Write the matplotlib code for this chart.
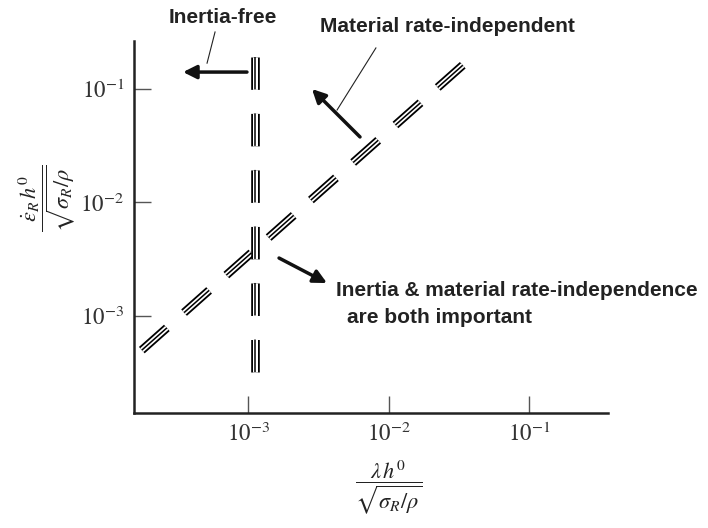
import matplotlib
matplotlib.use('Agg')
import matplotlib.pyplot as plt

plt.rcParams['mathtext.fontset'] = 'stix'
plt.rcParams['lines.scale_dashes'] = False

# ---- data ----
x_ticks = [1e-3, 1e-2, 1e-1]
x_tick_labels = [r'$10^{-3}$', r'$10^{-2}$', r'$10^{-1}$']
y_ticks = [1e-3, 1e-2, 1e-1]
y_tick_labels = [r'$10^{-3}$', r'$10^{-2}$', r'$10^{-1}$']

# inertia-free boundary (vertical)
inertia_x = [1.11e-3, 1.11e-3]
inertia_y = [3.21e-4, 0.191]
# material rate-independent boundary (diagonal)
rate_x = [1.74e-4, 0.0337]
rate_y = [5.0e-4, 0.163]

xlim = (10**-3.815, 10**-0.441)
ylim = (10**-3.855, 10**-0.577)

fig = plt.figure(figsize=(7.08, 5.28), dpi=100)
ax = fig.add_axes([134/708, 1-413/528, 474/708, 372/528])
ax.set_xscale('log')
ax.set_yscale('log')
ax.set_xlim(*xlim)
ax.set_ylim(*ylim)

def triple(x, y, dashes):
    for lw, c in [(6.2, 'black'), (3.6, 'white'), (1.1, 'black')]:
        ax.plot(x, y, color=c, lw=lw, dashes=dashes, dash_capstyle='butt',
                solid_capstyle='butt', zorder=3)

triple(rate_x, rate_y, (24.1, 16.6))
triple(inertia_x, inertia_y, (23.4, 17.3))

for s in ['top', 'right']:
    ax.spines[s].set_visible(False)
for s in ['left', 'bottom']:
    ax.spines[s].set_linewidth(1.8)
    ax.spines[s].set_color('#222222')

ax.set_xticks(x_ticks)
ax.set_xticklabels(x_tick_labels)
ax.set_yticks(y_ticks)
ax.set_yticklabels(y_tick_labels)
ax.minorticks_off()
ax.tick_params(direction='in', length=12, width=1, color='#555555',
               labelsize=16.5, labelcolor='#333333', pad=7)

ax.set_ylabel(r'$\dfrac{\dot{\varepsilon}_R\, h^0}{\sqrt{\sigma_R/\rho}}$',
              fontsize=16, va='center', color='#222222')
ax.yaxis.set_label_coords((47-134)/474, (413-198)/372)
ax.set_xlabel(r'$\dfrac{\lambda\, h^0}{\sqrt{\sigma_R/\rho}}$',
              fontsize=16, va='center', color='#222222')
ax.xaxis.set_label_coords((389-134)/474, (413-487)/372)

tfont = dict(family='Liberation Sans', weight='bold', size=15, color='#222222')
aprops = dict(arrowstyle='-|>', lw=2.5, color='#111111', mutation_scale=20,
              shrinkA=0, shrinkB=0)

# Inertia-free
ax.text(6.6e-4, 0.43, 'Inertia-free', ha='center', va='center',
        clip_on=False, **tfont)
ax.annotate('', xy=(3.42e-4, 0.141), xytext=(9.75e-4, 0.141),
            arrowprops=aprops, annotation_clip=False)
ax.plot([5.78e-4, 5.07e-4], [0.318, 0.169], color='#222222', lw=0.8,
        clip_on=False)

# Material rate-independent
ax.text(3.23e-3, 0.352, 'Material rate-independent', ha='left', va='center',
        clip_on=False, **tfont)
ax.annotate('', xy=(2.83e-3, 0.1), xytext=(6.22e-3, 0.0378),
            arrowprops=aprops, annotation_clip=False)
ax.plot([8.07e-3, 4.27e-3], [0.23, 0.0653], color='#222222', lw=0.8,
        clip_on=False)

# Both important
ax.annotate('', xy=(3.62e-3, 1.95e-3), xytext=(1.65e-3, 3.24e-3),
            arrowprops=aprops, annotation_clip=False)
ax.text(4.2e-3, 1.69e-3, 'Inertia & material rate-independence',
        ha='left', va='center', clip_on=False, **tfont)
ax.text(5.02e-3, 9.6e-4, 'are both important',
        ha='left', va='center', clip_on=False, **tfont)

fig.savefig('out.png', dpi=100)
